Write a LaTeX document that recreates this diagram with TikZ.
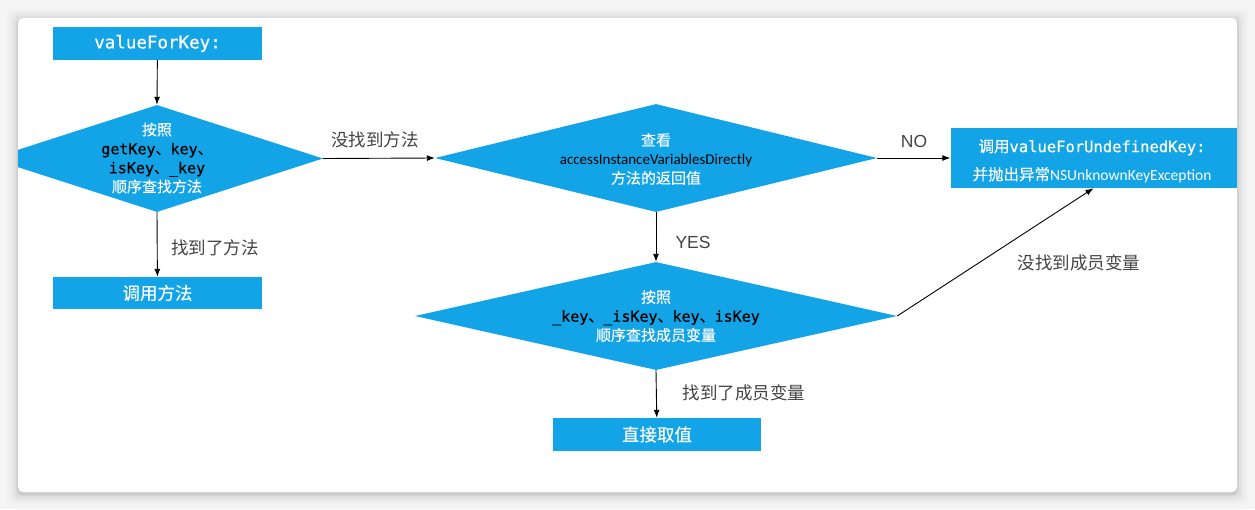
\documentclass[tikz,border=0pt]{standalone}
\usepackage{fontspec}
\setmainfont{Noto Sans CJK SC}
\newfontfamily\cjkm[FakeBold=0.15]{Noto Sans CJK SC}
\newfontfamily\monof[FakeBold=0.7]{DejaVu Sans Mono}
\newfontfamily\carl{Carlito}
\newfontfamily\helv{Liberation Sans}
\usetikzlibrary{shapes.geometric,arrows.meta}
\definecolor{kblue}{HTML}{13A4E7}
\definecolor{lbl}{HTML}{444444}
\definecolor{bgout}{HTML}{F5F5F5}
\begin{document}
\begin{tikzpicture}[x=1pt,y=-1pt,
  box/.style={fill=kblue, inner sep=0pt, minimum width=209pt, minimum height=33pt, text=white},
  dia/.style={diamond, fill=kblue, inner sep=0pt},
  dtext/.style={text=white, align=center, inner sep=0pt, font=\fontsize{15}{19}\cjkm},
  lab/.style={text=lbl, inner sep=0pt, font=\fontsize{17.5}{20}\selectfont},
  arr/.style={-{Latex[length=8pt,width=6pt]}, line width=0.9pt, draw=black},
  ln/.style={line width=0.9pt, draw=black}]
% background and card
\fill[bgout] (0,0) rectangle (1255,509);
\foreach \i/\o in {12/0.008,10/0.01,8/0.014,6/0.02,4/0.03,2/0.04,1/0.05}{
  \fill[black, opacity=\o, rounded corners=6pt] (18-\i,18-\i+2) rectangle (1237+\i,492+\i+2);
}
\fill[white, rounded corners=5pt] (18,18) rectangle (1237,492);
\begin{scope}
\clip[rounded corners=5pt] (18,18) rectangle (1237,492);
% nodes
\node[box, font=\fontsize{17.5}{20}\monof] (start) at (157.5,43.5) {valueForKey:};
\node[dia, minimum width=332pt, minimum height=107pt] (d1) at (157,158.5) {};
\node[dtext] (d1t) at (157,158) {按照\\\color{black}{\monof getKey}、{\monof key}、\\\color{black}{\monof isKey}、{\monof \_key}\\顺序查找方法};
\node[box, minimum height=32pt, font=\fontsize{17.5}{20}\cjkm] (call) at (157.5,293) {调用方法};
\node[dia, minimum width=442pt, minimum height=108pt] (d2) at (656,158) {};
\node[dtext] (d2t) at (656,159) {查看\\\color{black}{\carl accessInstanceVariablesDirectly}\\方法的返回值};
\node[box, minimum width=286pt, minimum height=60pt] (undef) at (1093.5,158) {};
\node[text=white, align=center, inner sep=0pt, font=\fontsize{15.5}{28}\cjkm] (undeft) at (1092,161) {调用{\monof valueForUndefinedKey:}\\并抛出异常{\carl NSUnknownKeyException}};
\node[dia, minimum width=482pt, minimum height=108pt] (d3) at (656,316) {};
\node[dtext] (d3t) at (656,316) {按照\\\color{black}{\monof \_key}、{\monof \_isKey}、{\monof key}、{\monof isKey}\\顺序查找成员变量};
\node[box, minimum width=208pt, minimum height=33pt, font=\fontsize{17.5}{20}\cjkm] (direct) at (657,434.5) {直接取值};
% connectors
\draw[arr] (start) -- (d1.north);
\draw[arr] (d1.south) -- (call);
\draw[arr] (d1.east) -- (d2.west);
\draw[arr] (d2.east) -- (undef.west);
\draw[arr] (d2.south) -- (d3.north);
\draw[arr] (d3.east) -- (undef.south);
\draw[arr] (d3.south) -- (direct);
% labels
\node[lab] (l1) at (375,140) {没找到方法};
\node[lab] (l2) at (215,248) {找到了方法};
\node[lab, font=\fontsize{17.5}{20}\helv] (l3) at (914,141) {NO};
\node[lab, font=\fontsize{17.5}{20}\helv] (l4) at (693,242) {YES};
\node[lab] (l5) at (1079,263) {没找到成员变量};
\node[lab] (l6) at (744,393) {找到了成员变量};
\end{scope}
\end{tikzpicture}
\end{document}
